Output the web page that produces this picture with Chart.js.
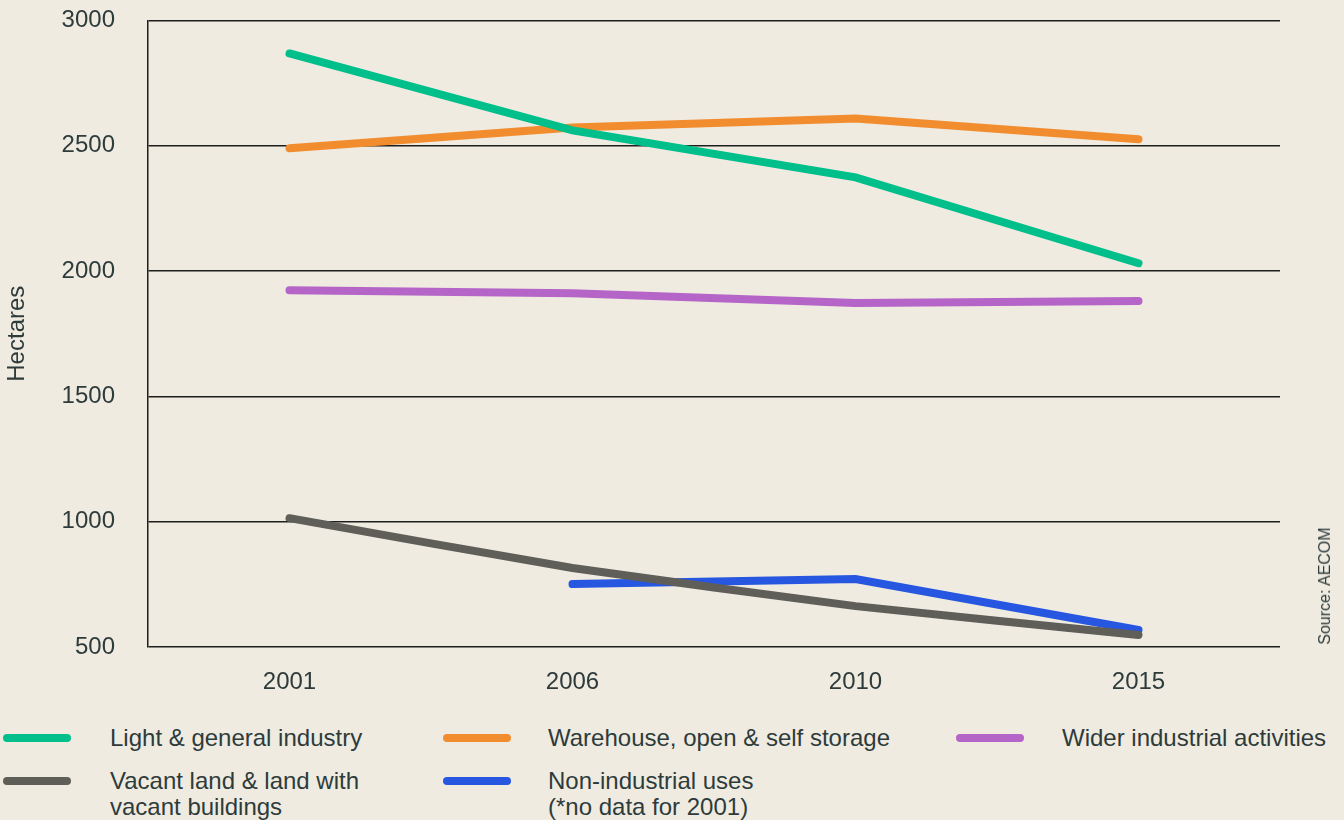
<!DOCTYPE html>
<html>
<head>
<meta charset="utf-8">
<script src="https://cdn.jsdelivr.net/npm/chart.js@4"></script>
<style>
  body { margin: 0; background: #efebe1; font-family: "Liberation Sans", Arial, sans-serif; color: #2e3b3b; }
  #wrap { position: relative; width: 1344px; height: 820px; overflow: hidden; }
  #chartBox { position: absolute; left: 0; top: -27px; width: 1344px; height: 727px; }
  .item { position: absolute; font-size: 24px; line-height: 26px; }
  .sw { position: absolute; width: 68px; height: 8px; border-radius: 4px; }
  #source { position: absolute; left: 1325px; top: 586px; font-size: 16px; white-space: nowrap;
            transform: translate(-50%, -50%) rotate(-90deg); }
</style>
</head>
<body>
<div id="wrap">
  <div id="chartBox"><canvas id="chart"></canvas></div>
  <div id="source">Source: AECOM</div>
  <div id="legend"></div>
</div>
<script>
document.addEventListener('DOMContentLoaded', function () {

    //Categories and series (hectares)
    const years = ['2001', '2006', '2010', '2015'];
    const lightIndustry = [2868, 2561, 2374, 2031];
    const warehouse = [2490, 2573, 2609, 2526];
    const widerIndustrial = [1923, 1911, 1872, 1880];
    const vacantLand = [1014, 815, 663, 548];
    const nonIndustrial = [null, 751, 771, 568];

    const yTicks = [500, 1000, 1500, 2000, 2500, 3000];

    const textColor = '#2e3b3b';
    const lineColor = '#1e1e1e';

    //Legend entries (column x, row y, swatch colour)
    const legendItems = [
        { label: 'Light & general industry', color: '#00bf8a', sx: 3, tx: 110, y: 725 },
        { label: 'Warehouse, open & self storage', color: '#f28d2f', sx: 443, tx: 548, y: 725 },
        { label: 'Wider industrial activities', color: '#b565c8', sx: 956, tx: 1062, y: 725 },
        { label: 'Vacant land & land with<br>vacant buildings', color: '#5f5e58', sx: 3, tx: 110, y: 768 },
        { label: 'Non-industrial uses<br>(*no data for 2001)', color: '#2757e0', sx: 443, tx: 548, y: 768 }
    ];

    const legend = document.getElementById('legend');
    legendItems.forEach(function (it) {
        const sw = document.createElement('div');
        sw.className = 'sw';
        sw.style.left = it.sx + 'px';
        sw.style.top = (it.y + 9) + 'px';
        sw.style.background = it.color;
        legend.appendChild(sw);
        const t = document.createElement('div');
        t.className = 'item';
        t.style.left = it.tx + 'px';
        t.style.top = it.y + 'px';
        t.innerHTML = it.label;
        legend.appendChild(t);
    });

    const common = {
        fill: false,
        borderWidth: 8,
        borderCapStyle: 'round',
        pointRadius: 0,
        pointHoverRadius: 0
    };

    const data = {
        labels: years,
        datasets: [
            Object.assign({ label: 'Light & general industry', data: lightIndustry, borderColor: '#00bf8a', order: 0 }, common),
            Object.assign({ label: 'Warehouse, open & self storage', data: warehouse, borderColor: '#f28d2f', order: 2 }, common),
            Object.assign({ label: 'Wider industrial activities', data: widerIndustrial, borderColor: '#b565c8', order: 2 }, common),
            Object.assign({ label: 'Vacant land & land with vacant buildings', data: vacantLand, borderColor: '#5f5e58', order: 0, tension: 0.1 }, common),
            Object.assign({ label: 'Non-industrial uses (*no data for 2001)', data: nonIndustrial, borderColor: '#2757e0', order: 1 }, common)
        ]
    };

    const config = {
        type: 'line',
        data: data,
        options: {
            responsive: true,
            maintainAspectRatio: false,
            animation: false,
            layout: {
                padding: { top: 0, right: 64, bottom: 0, left: 0 }
            },
            scales: {
                x: {
                    offset: true,
                    grid: { display: false },
                    border: { display: false },
                    ticks: {
                        color: textColor,
                        font: { family: 'Liberation Sans', size: 24 },
                        padding: 13,
                        maxRotation: 0
                    },
                    afterFit: function (axis) { axis.height = 53; }
                },
                y: {
                    min: 500,
                    max: 3000,
                    afterBuildTicks: function (axis) {
                        axis.ticks = yTicks.map(function (v) { return { value: v }; });
                    },
                    grid: {
                        color: lineColor,
                        lineWidth: 1.5,
                        drawTicks: false
                    },
                    border: { display: true, color: lineColor, width: 1.5 },
                    ticks: {
                        color: textColor,
                        font: { family: 'Liberation Sans', size: 24 },
                        padding: 33,
                        callback: function (v) { return String(v); }
                    },
                    title: {
                        display: true,
                        text: 'Hectares',
                        color: textColor,
                        font: { family: 'Liberation Sans', size: 24 },
                        padding: { top: 3, bottom: 0 }
                    },
                    afterFit: function (axis) { axis.width = 148; }
                }
            },
            plugins: {
                legend: { display: false },
                tooltip: { enabled: false }
            }
        }
    };

    new Chart(document.getElementById('chart'), config);
});
</script>
</body>
</html>
